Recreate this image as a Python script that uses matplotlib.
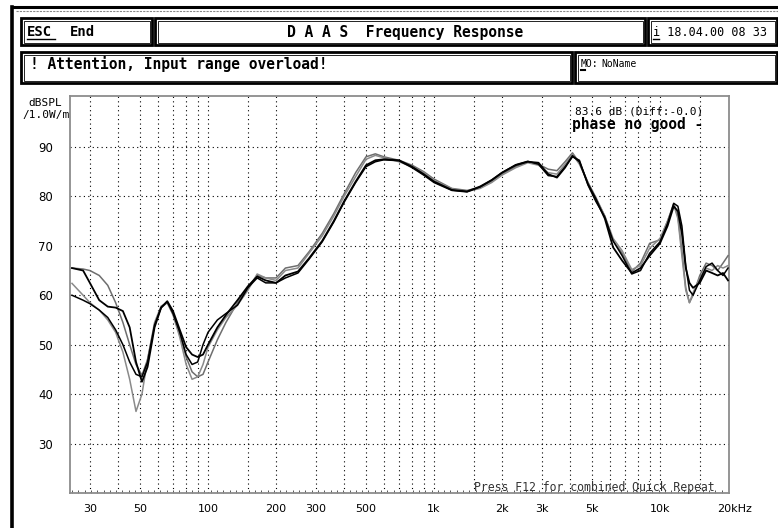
import numpy as np
import matplotlib
matplotlib.use("Agg")
import matplotlib.pyplot as plt
from matplotlib.patches import Rectangle
from matplotlib.lines import Line2D
import matplotlib.transforms as mtransforms

# ---------------- data ----------------
freqs = [25, 28, 30, 33, 36, 39, 42, 45, 48, 51,
         54, 58, 62, 66, 70, 75, 80, 85, 90, 95,
         100, 110, 120, 135, 150, 165, 180, 200, 220, 250,
         280, 320, 360, 400, 450, 500, 550, 600, 700, 800,
         900, 1000, 1200, 1400, 1600, 1800, 2000, 2300, 2600, 2900,
         3200, 3500, 3800, 4100, 4400, 4800, 5200, 5700, 6200, 6800,
         7500, 8200, 9000, 10000, 10800, 11500, 12000, 12500, 13000, 13500,
         14000, 15000, 16000, 17000, 18000, 19000, 20000]

spl_1 = [65.5, 65.3, 65.0, 64.0, 62.0, 58.5, 54.5, 50.0, 46.0, 43.8,
         47.0, 54.0, 57.5, 58.5, 56.2, 52.0, 47.5, 44.5, 43.5, 44.0,
         46.5, 51.0, 54.5, 58.5, 61.5, 64.0, 63.5, 63.5, 65.5, 66.0,
         68.8, 72.5, 76.5, 80.5, 84.8, 88.0, 88.6, 88.0, 87.3, 86.3,
         85.0, 83.5, 81.6, 81.2, 81.8, 83.0, 84.5, 86.0, 87.0, 86.5,
         85.5, 85.2, 87.0, 88.8, 86.8, 82.8, 79.8, 76.0, 71.0, 68.5,
         64.8, 66.5, 70.5, 71.2, 75.0, 78.5, 76.0, 69.0, 61.5, 58.5,
         60.0, 64.0, 66.5, 66.0, 65.0, 66.5, 68.0]

spl_2 = [65.5, 65.0, 62.5, 59.0, 57.7, 57.5, 56.8, 53.5, 46.5, 42.5,
         45.5, 53.5, 57.5, 58.8, 56.8, 53.0, 49.5, 48.0, 47.5, 48.0,
         50.0, 53.5, 56.0, 59.0, 61.8, 63.8, 63.0, 62.5, 64.0, 64.8,
         67.5, 71.0, 75.0, 79.0, 83.0, 86.3, 87.3, 87.5, 87.3, 86.0,
         84.5, 83.0, 81.3, 81.0, 82.0, 83.3, 84.8, 86.3, 87.0, 86.8,
         84.5, 83.8, 85.8, 88.2, 87.0, 82.5, 79.5, 75.5, 69.7, 67.0,
         64.5, 65.5, 68.0, 70.5, 74.0, 78.0, 77.0, 72.5, 65.5, 62.5,
         61.5, 62.5, 65.0, 64.5, 64.0, 64.5, 63.0]

spl_3 = [62.4, 60.0, 58.5, 57.0, 55.0, 52.5, 48.5, 43.0, 36.5, 40.0,
         47.0, 54.5, 57.8, 58.5, 56.0, 51.5, 46.0, 43.0, 43.5, 46.0,
         49.5, 53.0, 55.5, 58.0, 61.0, 64.3, 63.5, 63.0, 65.0, 65.5,
         68.5, 72.0, 76.0, 80.0, 84.0, 87.5, 88.3, 87.8, 87.0, 86.0,
         84.8, 83.2, 81.5, 81.0, 81.6, 82.8, 84.3, 85.8, 86.8, 86.3,
         84.8, 84.5, 86.5, 88.5, 86.5, 82.8, 79.5, 76.0, 71.5, 69.0,
         65.2, 66.0, 69.5, 71.5, 75.0, 78.3, 75.5, 68.0, 61.0, 58.5,
         60.5, 63.5, 65.5, 65.0, 66.0, 65.5, 66.0]

spl_4 = [60.0, 59.0, 58.3, 57.0, 55.5, 53.0, 50.0, 46.5, 44.0, 43.5,
         46.5, 54.0, 57.5, 58.7, 56.3, 52.5, 48.0, 46.0, 46.5, 50.0,
         52.5, 55.0, 56.3, 58.0, 61.5, 63.5, 62.5, 62.5, 63.5, 64.5,
         67.3, 70.8, 74.8, 78.8, 82.8, 86.0, 87.0, 87.4, 87.2, 85.8,
         84.3, 82.8, 81.2, 80.9, 81.9, 83.3, 84.8, 86.4, 87.1, 86.5,
         84.2, 84.0, 86.0, 88.0, 87.3, 82.3, 79.0, 75.8, 71.0, 68.0,
         64.3, 65.0, 68.5, 70.8, 74.5, 78.6, 78.0, 74.0, 66.0, 61.0,
         60.0, 63.0, 65.8, 66.5, 65.0, 64.0, 65.5]

ytick_vals = [30, 40, 50, 60, 70, 80, 90]
xtick_vals = [30, 50, 100, 200, 300, 500, 1000, 2000, 3000, 5000, 10000, 20000]
xtick_labels = ["30", "50", "100", "200", "300", "500", "1k", "2k", "3k", "5k", "10k", "20kHz"]
grid_freqs = ([30, 40, 50, 60, 70, 80, 90] +
              [100, 150, 200, 300, 400, 500, 600, 700, 800, 900] +
              [1000, 1500, 2000, 3000, 4000, 5000, 6000, 7000, 8000, 9000] +
              [10000, 15000])

# ---------------- figure ----------------
W, H = 778, 528
fig = plt.figure(figsize=(W / 100, H / 100), dpi=100)
fig.patch.set_facecolor("white")

def fx(x):
    return x / W

def fy(y):
    return 1 - y / H

mono = "DejaVu Sans Mono"

# outer screen frame
fig.add_artist(Line2D([fx(12), fx(778)], [fy(7), fy(7)], color="black", lw=2.2,
                      transform=fig.transFigure))
fig.add_artist(Line2D([fx(12), fx(12)], [fy(7), fy(528)], color="black", lw=2.6,
                      transform=fig.transFigure))
fig.add_artist(Line2D([fx(16), fx(778)], [fy(10.5), fy(10.5)], color="#888888", lw=0.8,
                      ls=(0, (2, 1)), transform=fig.transFigure))

def box(x0, y0, x1, y1):
    fig.add_artist(Rectangle((fx(x0), fy(y1)), fx(x1) - fx(x0), fy(y0) - fy(y1),
                             fill=False, ec="black", lw=2.0, transform=fig.transFigure))
    fig.add_artist(Rectangle((fx(x0 + 2.5), fy(y1 - 2.5)), fx(x1 - x0 - 5), fy(y0 + 2.5) - fy(y1 - 2.5),
                             fill=False, ec="black", lw=0.6, transform=fig.transFigure))

box(21, 18, 152, 45)
box(155, 18, 645, 45)
box(648, 18, 777, 45)
box(21, 52, 572, 83)
box(575, 52, 777, 83)

fig.text(fx(27), fy(32), "ESC", family=mono, weight="bold", fontsize=10, va="center", ha="left")
fig.add_artist(Line2D([fx(27), fx(55)], [fy(38.5), fy(38.5)], color="black", lw=1.0,
                      transform=fig.transFigure))
fig.text(fx(70), fy(32), "End", family=mono, weight="bold", fontsize=10, va="center", ha="left")
fig.text(fx(405), fy(32), "D A A S  Frequency Response", family=mono, weight="bold",
         fontsize=10.5, va="center", ha="center")
fig.text(fx(653), fy(32), "i 18.04.00 08 33", family=mono, fontsize=8.5, va="center", ha="left")
fig.add_artist(Line2D([fx(653), fx(659)], [fy(38.5), fy(38.5)], color="black", lw=1.0,
                      transform=fig.transFigure))
fig.text(fx(30), fy(64), "! Attention, Input range overload!", family=mono, weight="bold",
         fontsize=10.5, va="center", ha="left")
fig.text(fx(581), fy(64), "MO:", family=mono, fontsize=7, va="center", ha="left")
fig.add_artist(Line2D([fx(581), fx(585)], [fy(70), fy(70)], color="black", lw=1.5,
                      transform=fig.transFigure))
fig.text(fx(601), fy(64), "NoName", family=mono, fontsize=7, va="center", ha="left")

# ---------------- plot ----------------
ax = fig.add_axes([fx(70), fy(493), fx(729) - fx(70), fy(96) - fy(493)])
ax.set_xscale("log")
ax.set_xlim(24.5, 20200)
ax.set_ylim(20, 100.3)

grid_style = dict(color="black", lw=0.8, ls=(0, (1, 3)), zorder=1)
for g in grid_freqs:
    ax.axvline(g, **grid_style)
for yv in ytick_vals:
    ax.axhline(yv, **grid_style)

ax.plot(freqs, spl_1, color="#6e6e6e", lw=1.1, zorder=3)
ax.plot(freqs, spl_3, color="#8a8a8a", lw=1.1, zorder=3)
ax.plot(freqs, spl_4, color="black", lw=1.1, zorder=4)
ax.plot(freqs, spl_2, color="black", lw=1.3, zorder=4)

for s in ax.spines.values():
    s.set_color("#8c8c8c")
    s.set_linewidth(1.3)

ax.set_yticks(ytick_vals)
ax.set_yticklabels([str(v) for v in ytick_vals], fontsize=8.5)
ax.set_xticks(xtick_vals)
ax.set_xticklabels(xtick_labels, fontsize=8)
minor_pos = np.logspace(np.log10(25), np.log10(20000), 105)
ax.set_xticks(minor_pos, minor=True)
ax.set_xticklabels([], minor=True)
ax.tick_params(axis="y", which="both", length=0, pad=12)
ax.tick_params(axis="x", which="major", length=0, pad=8)
ax.tick_params(axis="x", which="minor", length=2.5, direction="in", color="#555555", width=0.7)
ax.yaxis.set_minor_locator(matplotlib.ticker.NullLocator())
last = ax.get_xticklabels()[-1]
last.set_transform(last.get_transform() + mtransforms.ScaledTranslation(7 / 100, 0, fig.dpi_scale_trans))

ax.text(0.0, 0, "", transform=ax.transAxes)

fig.text(fx(45), fy(103), "dBSPL", family=mono, fontsize=8, va="center", ha="center")
fig.text(fx(46), fy(115), "/1.0W/m", family=mono, fontsize=8, va="center", ha="center")

fig.text(fx(703), fy(112), "83.6 dB (Diff:-0.0)", family=mono, fontsize=8, va="center", ha="right")
fig.text(fx(703), fy(124.5), "phase no good -", family=mono, weight="bold", fontsize=10.5,
         va="center", ha="right")
fig.text(fx(474), fy(488), "Press F12 for combined Quick Repeat", family=mono, fontsize=8.3,
         color="#333333", va="center", ha="left")

fig.savefig("out.png", dpi=100)
